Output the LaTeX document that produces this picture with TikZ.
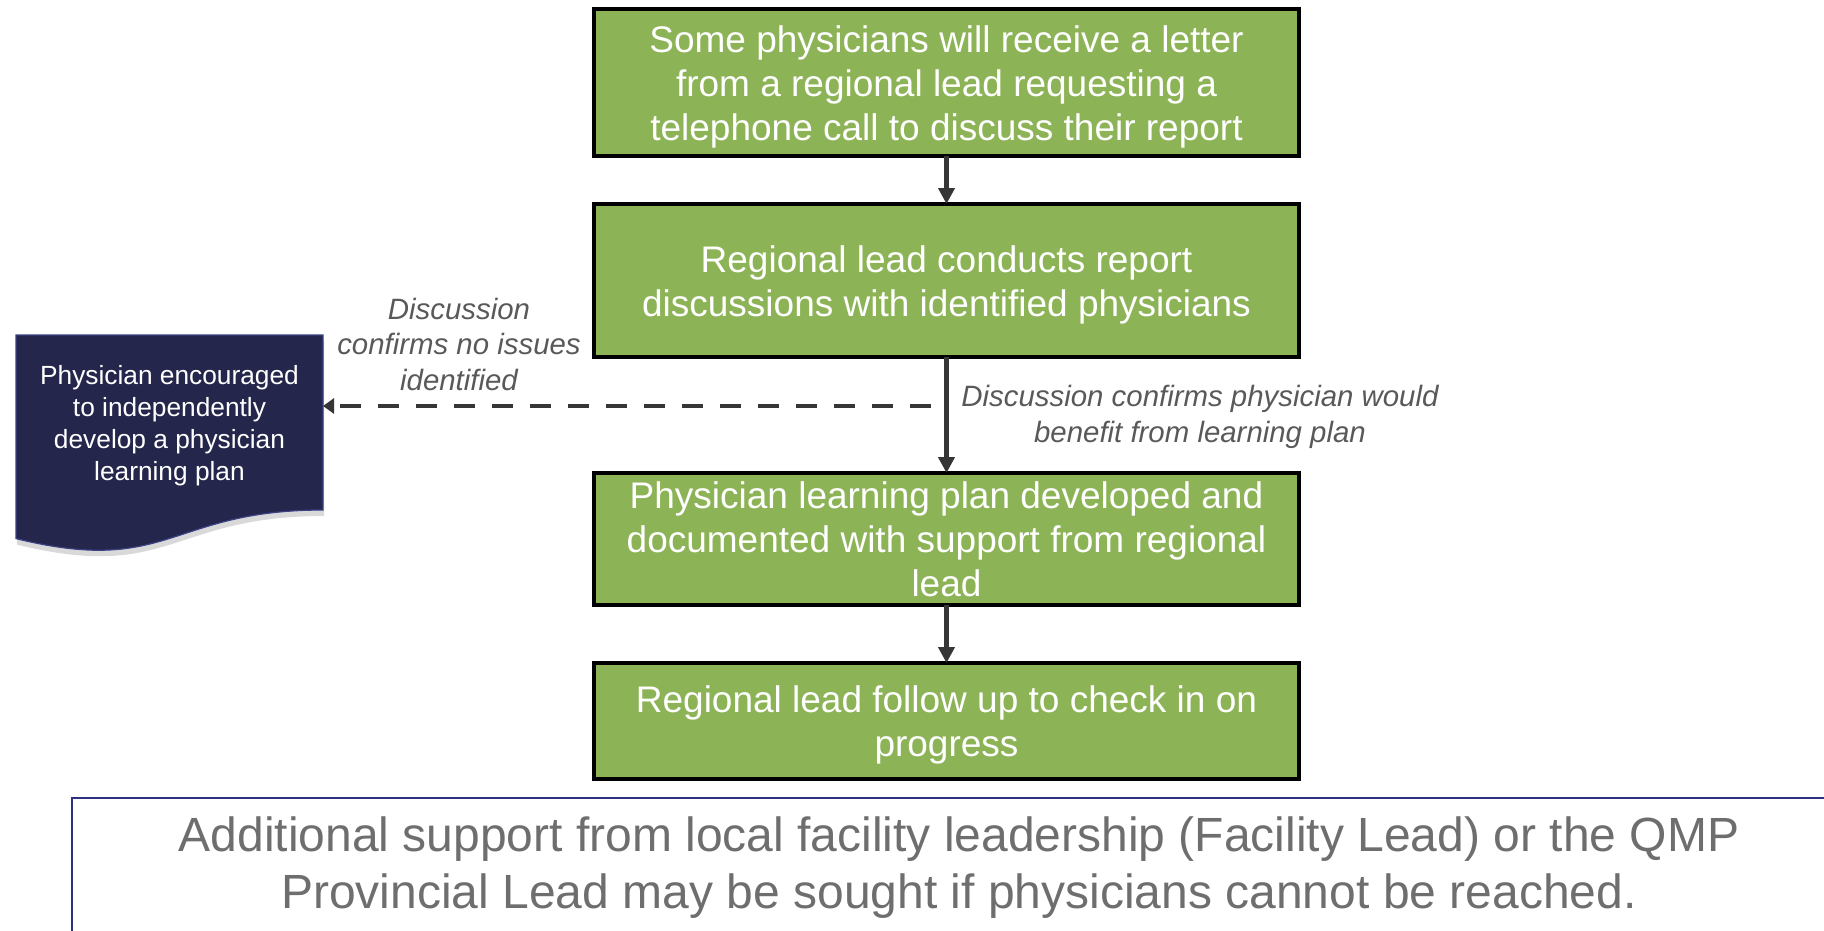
\documentclass[tikz,border=0pt]{standalone}
\usepackage{fontspec}
\setmainfont{Liberation Sans}
\usetikzlibrary{positioning,arrows.meta,calc,shadows,backgrounds}

\definecolor{stepgreen}{HTML}{8DB357}
\definecolor{docnavy}{HTML}{25264B}
\definecolor{docedge}{HTML}{3C4183}
\definecolor{arrowgray}{HTML}{363636}
\definecolor{condgray}{HTML}{595959}
\definecolor{notegray}{HTML}{6E6E6E}
\definecolor{noteedge}{HTML}{2E3080}

% keeps the first line of a step as tall as a full ascender
\newcommand{\capstrut}{\rule{0pt}{35pt}}

\begin{document}
\begin{tikzpicture}[x=1pt,y=-1pt,
    stepbox/.style={rectangle,draw=black,line width=3.5pt,fill=stepgreen,text=white,align=center,
        inner sep=4pt,outer sep=0pt,minimum width=705pt,font=\fontsize{37}{44}\selectfont},
    cond/.style={align=center,text=condgray,font=\itshape\fontsize{29.4}{35.5}\selectfont},
    flow/.style={color=arrowgray,line width=5pt,-{Triangle[length=16pt,width=16pt]}}]
    \useasboundingbox (0,0) rectangle (1824,930);

    \node[stepbox,minimum height=147pt] (1) at (946.5,82.5)
        {\capstrut Some physicians will receive a letter\\from a regional lead requesting a\\telephone call to discuss their report};
    \node[stepbox,minimum height=153pt] (2) [below=48pt of 1]
        {\capstrut Regional lead conducts report\\discussions with identified physicians};
    \node[stepbox,minimum height=132pt] (3) [below=116pt of 2]
        {Physician learning plan developed and\\documented with support from regional\\lead};
    \node[stepbox,minimum height=116pt] (4) [below=58pt of 3]
        {\capstrut Regional lead follow up to check in on\\progress};

    % document shape on the left, wavy bottom drawn behind the text
    \node[align=center,text=white,outer sep=0pt,minimum width=307pt,minimum height=182pt,
        font=\fontsize{26.3}{32}\selectfont] (5) at (169.5,426)
        {Physician encouraged\\to independently\\develop a physician\\learning plan};
    \begin{scope}[on background layer]
        \fill[docnavy,draw=docedge,line width=1.2pt,
            drop shadow={shadow xshift=1pt,shadow yshift=-6pt,opacity=0.15,fill=black}]
            (5.north west) -- (5.north east) -- ($(5.north east)+(0,175)$)
            .. controls ($(5.north)+(0,175)$) and ($(5.north)+(0,241.4)$) .. ($(5.north west)+(0,203.6)$) -- cycle;
    \end{scope}

    \node[cond] (7) at (459,344) {Discussion\\confirms no issues\\identified};
    \node[cond] (8) at (1200,417) {Discussion confirms physician would\\benefit from learning plan};

    \node[rectangle,draw=noteedge,line width=1.5pt,minimum width=1774pt,minimum height=140pt,
        align=center,text=notegray,font=\fontsize{48}{57}\selectfont] (6) at (959,868)
        {Additional support from local facility leadership (Facility Lead) or the QMP\\Provincial Lead may be sought if physicians cannot be reached.};

    \coordinate[below left=49pt and 16pt of 2.south] (split);

    \path[flow]
        (1) edge (2)
        (2) edge (3)
        (3) edge (4)
        ;
    \draw[flow,line width=4.7pt,dash pattern=on 21pt off 17pt,-{Triangle[length=11pt,width=15pt]}]
        (split) -- (split -| 5.east);
\end{tikzpicture}
\end{document}
